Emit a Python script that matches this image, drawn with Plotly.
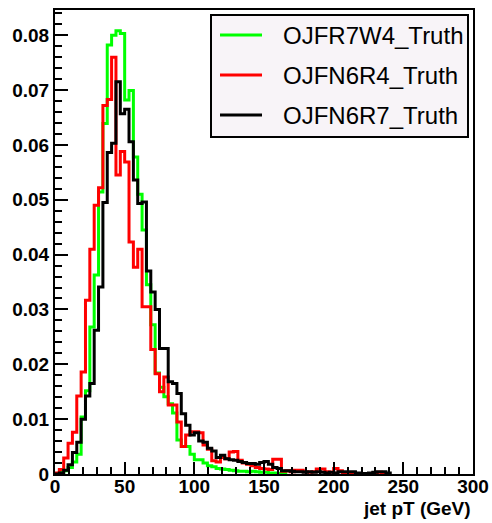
import numpy as np
import plotly.graph_objects as go

# jet pT histograms, normalised to unit area, 3.125 GeV bins starting at 0
BIN_WIDTH = 3.125
X_MAX = 300

labels = ["OJFR7W4_Truth", "OJFN6R4_Truth", "OJFN6R7_Truth"]
colors = ["#00ff00", "#ff0000", "#000000"]

green_vals = [
    0.0001, 0.0003, 0.0006, 0.0012, 0.0022, 0.0036, 0.0104, 0.0152, 0.0268, 0.0363,
    0.0514, 0.0639, 0.0782, 0.0800, 0.0808, 0.0803, 0.0682, 0.0699, 0.0578, 0.0510,
    0.0445, 0.0345, 0.0272, 0.0184, 0.0158, 0.0141, 0.0128, 0.0111, 0.0062, 0.0050,
    0.0050, 0.0036, 0.0026, 0.0026, 0.0020, 0.0015, 0.0013, 0.0010, 0.0009, 0.0008,
    0.0007, 0.0006, 0.0005, 0.0005, 0.0004, 0.0005, 0.0004, 0.0003, 0.0003, 0.0002,
    0.0002, 0.0001, 0.0001,
]

red_vals = [
    0.0002, 0.0008, 0.0029, 0.0056, 0.0076, 0.0142, 0.0186, 0.0317, 0.0410, 0.0490,
    0.0522, 0.0672, 0.0683, 0.0760, 0.0545, 0.0588, 0.0569, 0.0423, 0.0377, 0.0410,
    0.0305, 0.0305, 0.0227, 0.0183, 0.0150, 0.0177, 0.0126, 0.0126, 0.0095, 0.0050,
    0.0071, 0.0077, 0.0077, 0.0075, 0.0053, 0.0045, 0.0024, 0.0022, 0.0030, 0.0028,
    0.0040, 0.0041, 0.0025, 0.0020, 0.0018, 0.0015, 0.0012, 0.0010, 0.0009, 0.0008,
    0.0027, 0.0027, 0.0005, 0.0006, 0.0004, 0.0007, 0.0007, 0.0004, 0.0003, 0.0004,
    0.0009, 0.0009, 0.0004, 0.0003, 0.0010, 0.0006, 0.0002, 0.0001, 0.0001, 0.0001,
    0.0001, 0.0000, 0.0000, 0.0002, 0.0003, 0.0001,
]

black_vals = [
    0.0000, 0.0002, 0.0007, 0.0017, 0.0039, 0.0058, 0.0100, 0.0142, 0.0165, 0.0262,
    0.0341, 0.0495, 0.0586, 0.0603, 0.0715, 0.0657, 0.0665, 0.0606, 0.0536, 0.0493,
    0.0496, 0.0370, 0.0332, 0.0300, 0.0229, 0.0229, 0.0168, 0.0165, 0.0147, 0.0110,
    0.0089, 0.0071, 0.0075, 0.0060, 0.0058, 0.0047, 0.0042, 0.0030, 0.0034, 0.0028,
    0.0026, 0.0025, 0.0023, 0.0021, 0.0019, 0.0019, 0.0018, 0.0021, 0.0023, 0.0018,
    0.0012, 0.0010, 0.0006, 0.0006, 0.0005, 0.0004, 0.0004, 0.0003, 0.0004, 0.0003,
    0.0004, 0.0003, 0.0002, 0.0003, 0.0002, 0.0004, 0.0004, 0.0004, 0.0004, 0.0002,
    0.0001, 0.0001, 0.0002, 0.0003, 0.0004, 0.0004, 0.0002,
]

series = [green_vals, red_vals, black_vals]

FONT = "Liberation Sans, Arial, Helvetica, sans-serif"

FIG_W, FIG_H = 492, 523
# plot frame in pixels
PL, PR, PT, PB = 55, 473, 10, 474


def px_x(p):
    return (p - PL) / (PR - PL)


def px_y(p):
    return (PB - p) / (PB - PT)


fig = go.Figure()

for vals, name, col in zip(series, labels, colors):
    n = len(vals)
    edges = np.arange(n + 1) * BIN_WIDTH
    # step outline, closing back to zero after the last bin
    xs = list(edges) + [edges[-1]]
    ys = list(vals) + [vals[-1], 0]
    fig.add_trace(go.Scatter(
        x=xs, y=ys[:len(xs)],
        mode="lines",
        line=dict(color=col, width=3, shape="hv"),
        name=name,
        showlegend=False,
    ))

# legend box drawn by hand, ROOT style
shapes = [dict(
    type="rect", xref="paper", yref="paper",
    x0=px_x(211), x1=px_x(468), y0=px_y(137), y1=px_y(15),
    fillcolor="#f8f4f8", line=dict(color="black", width=2), layer="above",
)]
annotations = []
for i, (name, col) in enumerate(zip(labels, colors)):
    yy = px_y(35 + 40 * i)
    shapes.append(dict(
        type="line", xref="paper", yref="paper",
        x0=px_x(220), x1=px_x(262), y0=yy, y1=yy,
        line=dict(color=col, width=3), layer="above",
    ))
    annotations.append(dict(
        x=px_x(281), y=yy, xref="paper", yref="paper",
        text=name, showarrow=False, xanchor="left", yanchor="middle",
        font=dict(family=FONT, size=24, color="black"),
    ))

annotations.append(dict(
    x=1.0, y=px_y(508), xref="paper", yref="paper",
    text="jet pT (GeV)", showarrow=False, xanchor="right", yanchor="middle",
    font=dict(family=FONT, size=19, color="black", weight="bold"),
))

fig.update_layout(
    width=FIG_W, height=FIG_H,
    margin=dict(l=PL, r=FIG_W - PR, t=PT, b=FIG_H - PB, autoexpand=False),
    paper_bgcolor="white",
    plot_bgcolor="white",
    showlegend=False,
    shapes=shapes,
    annotations=annotations,
    xaxis=dict(
        range=[0, X_MAX], dtick=50, ticks="inside", ticklen=12, tickwidth=2,
        tickcolor="black", showline=True, linecolor="black", linewidth=2,
        mirror=True, showgrid=False, zeroline=False, automargin=False,
        ticklabelstandoff=-6,
        minor=dict(dtick=10, ticks="inside", ticklen=7, tickwidth=2, tickcolor="black"),
        tickfont=dict(family=FONT, size=19, color="black", weight="bold"),
    ),
    yaxis=dict(
        range=[0, 0.0846], dtick=0.01, ticks="inside", ticklen=13, tickwidth=2,
        tickcolor="black", showline=True, linecolor="black", linewidth=2,
        mirror=True, showgrid=False, zeroline=False, automargin=False,
        minor=dict(dtick=0.002, ticks="inside", ticklen=7, tickwidth=2, tickcolor="black"),
        tickfont=dict(family=FONT, size=19, color="black", weight="bold"),
    ),
)

# drop the default page margin so the figure sits at the window origin
fig.write_html(
    "out.html",
    config={"displayModeBar": False},
    post_script="document.body.style.margin='0';document.body.style.overflow='hidden';",
)
